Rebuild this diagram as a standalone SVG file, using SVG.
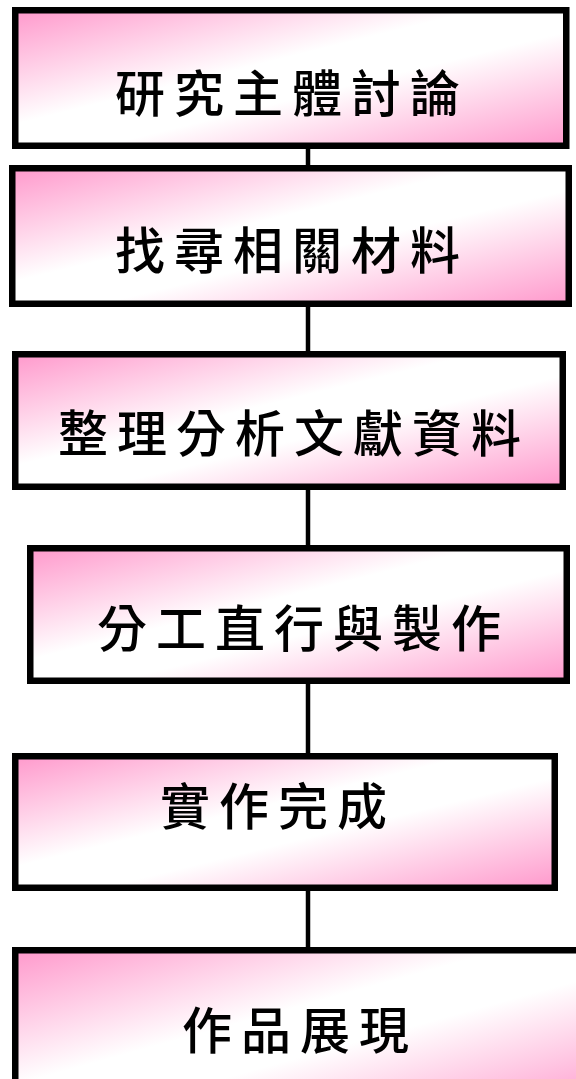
<svg xmlns="http://www.w3.org/2000/svg" width="576" height="1079" viewBox="0 0 576 1079">
<defs>
<linearGradient id="g" x1="0" y1="0" x2="1" y2="1">
<stop offset="0" stop-color="#ff99cc"/>
<stop offset="0.42" stop-color="#ffffff"/>
<stop offset="0.58" stop-color="#ffffff"/>
<stop offset="1" stop-color="#ff99cc"/>
</linearGradient>
<style>
.box{fill:url(#g);stroke:#000;stroke-width:6.5}
.lbl{font-family:"Noto Sans CJK TC","Noto Sans CJK SC",sans-serif;font-size:50px;font-weight:500;letter-spacing:9px;fill:#000}
.conn{stroke:#000;stroke-width:4.5;fill:none}
</style>
</defs>
<rect width="576" height="1079" fill="#fff"/>
<g id="connectors">
<line class="conn" x1="308" y1="149" x2="308" y2="165"/>
<line class="conn" x1="308" y1="307" x2="308" y2="351"/>
<line class="conn" x1="308" y1="490" x2="308" y2="545"/>
<line class="conn" x1="308" y1="684" x2="308" y2="753"/>
<line class="conn" x1="308" y1="891" x2="308" y2="947"/>
</g>
<g id="n1">
<rect class="box" x="15.25" y="10.25" width="551" height="135.5"/>
<text class="lbl" x="115" y="112">研究主體討論</text>
</g>
<g id="n2">
<rect class="box" x="12.25" y="168.25" width="556.5" height="135.5"/>
<text class="lbl" x="115" y="269">找尋相關材料</text>
</g>
<g id="n3">
<rect class="box" x="15.25" y="354.25" width="547.5" height="132.5"/>
<text class="lbl" x="58" y="452">整理分析文獻資料</text>
</g>
<g id="n4">
<rect class="box" x="30.25" y="548.25" width="536.5" height="132.5"/>
<text class="lbl" x="97" y="647">分工直行與製作</text>
</g>
<g id="n5">
<rect class="box" x="15.25" y="756.25" width="539.5" height="131.5"/>
<text class="lbl" x="160" y="825">實作完成</text>
</g>
<g id="n6">
<rect class="box" x="15.25" y="950.25" width="580" height="160"/>
<text class="lbl" x="182" y="1049">作品展現</text>
</g>
</svg>
